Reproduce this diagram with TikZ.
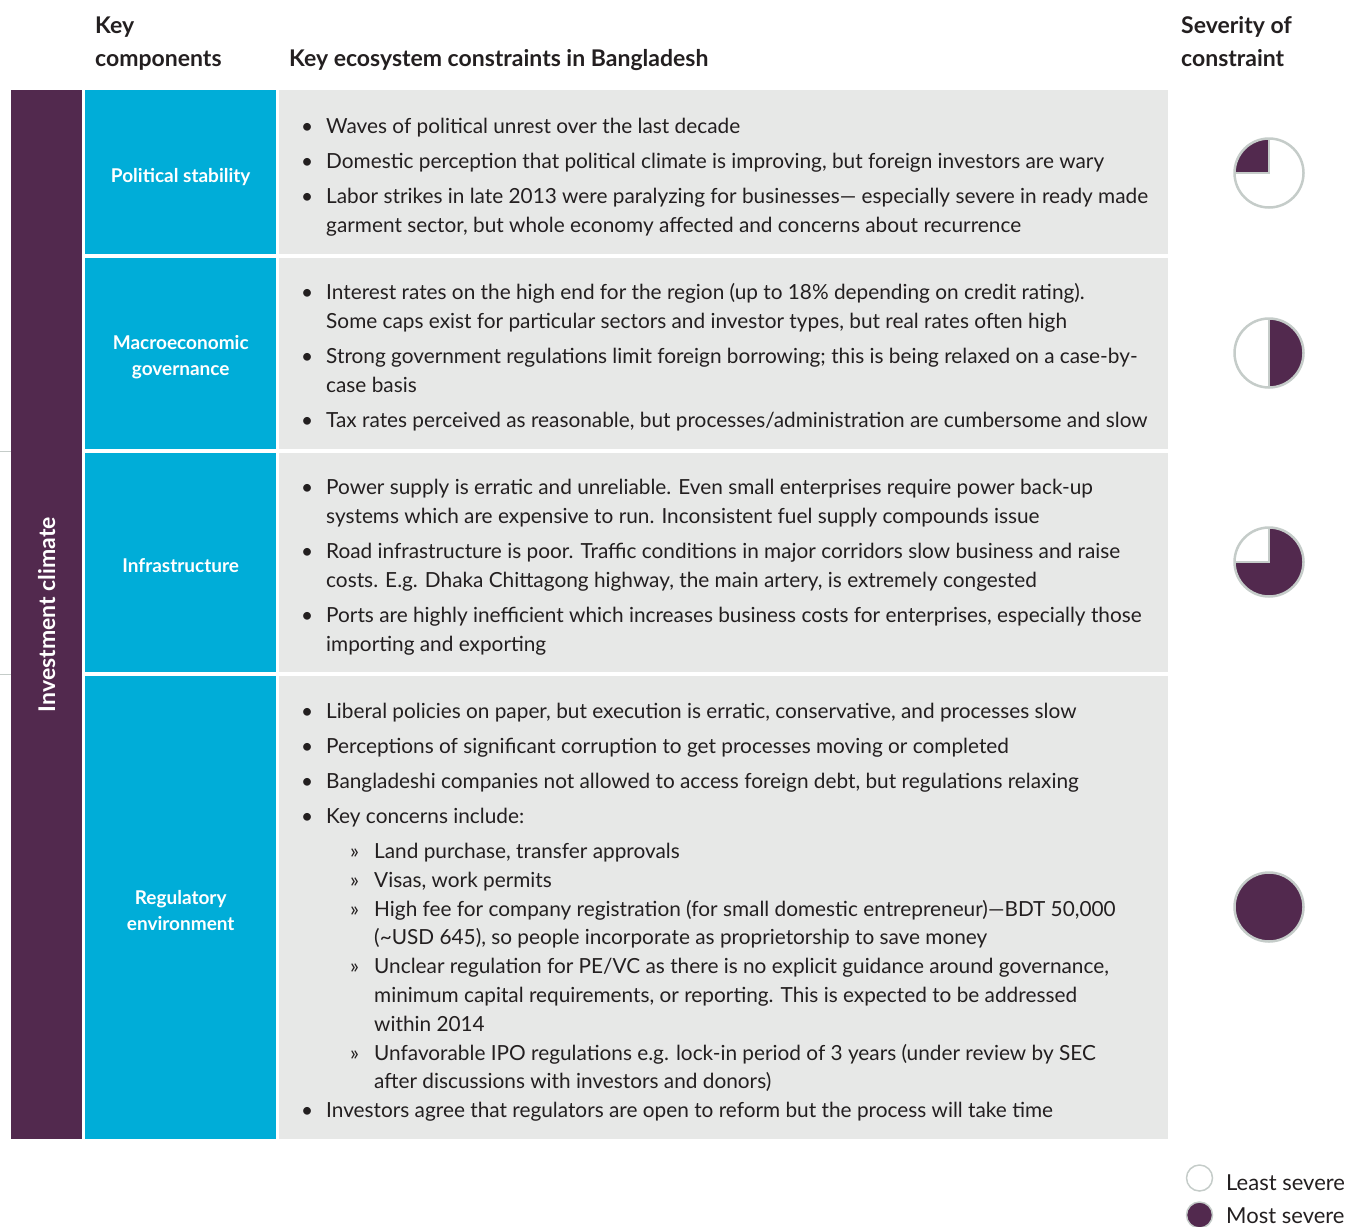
\documentclass[tikz,border=0pt]{standalone}
\usepackage{fontspec}
\setmainfont{Lato}
\definecolor{ipurple}{RGB}{82,41,78}
\definecolor{iblue}{RGB}{0,173,216}
\definecolor{igray}{RGB}{231,232,231}
\definecolor{iring}{RGB}{197,204,201}
\definecolor{itext}{RGB}{35,31,32}
\begin{document}
\begin{tikzpicture}[x=1pt,y=-1pt,
  bluecell/.style={fill=iblue, anchor=north west, minimum width=191pt, inner sep=0pt},
  bluelabel/.style={inner sep=0pt, text=white, font=\fontsize{19}{26}\selectfont\bfseries, align=center, yshift=-3pt},
  graycell/.style={fill=igray, anchor=north west, minimum width=889pt, inner sep=0pt},
  ln/.style={anchor=base west, inner sep=0pt, text=itext, font=\fontsize{20.8}{24}\selectfont},
  hdr/.style={anchor=base west, inner sep=0pt, text=itext, font=\fontsize{23}{26}\selectfont\bfseries},
  ball/.style={circle, draw=iring, line width=2.5pt, minimum size=69pt, inner sep=0pt},
  slice/.style={fill=ipurple},
  radius line/.style={draw=iring, line width=2.5pt},
  leg/.style={circle, draw=iring, line width=1.5pt, minimum size=26pt, inner sep=0pt},
  sep/.style={draw=iring, line width=0.8pt}
]
\useasboundingbox (0,0) rectangle (1346,1226);

% headers
\node[hdr] (hk1) at (95,33) {Key};
\node[hdr] (hk2) at (95,66) {components};
\node[hdr] (hc) at (289,66) {Key ecosystem constraints in Bangladesh};
\node[hdr] (hs1) at (1181,33) {Severity of};
\node[hdr] (hs2) at (1181,66) {constraint};

% left purple bar
\node[fill=ipurple, anchor=north west, minimum width=71pt, minimum height=1049pt, inner sep=0pt] (inv) at (11,90) {};
\node[rotate=90, text=white, font=\fontsize{23}{26}\selectfont\bfseries] (invl) at (inv.center) {Investment climate};
\coordinate (s1a) at (0,451); \coordinate (s1b) at (11,451);
\coordinate (s2a) at (0,674); \coordinate (s2b) at (11,674);
\draw[sep] (s1a) -- (s1b);
\draw[sep] (s2a) -- (s2b);

% blue cells
\node[bluecell, minimum height=164pt] (b1) at (85,90) {};
\node[bluecell, minimum height=191pt] (b2) at (85,258) {};
\node[bluecell, minimum height=219pt] (b3) at (85,453) {};
\node[bluecell, minimum height=463pt] (b4) at (85,676) {};
\node[bluelabel, yshift=-1.5pt] (b1l) at (b1.center) {Political stability};
\node[bluelabel] (b2l) at (b2.center) {Macroeconomic\\governance};
\node[bluelabel] (b3l) at (b3.center) {Infrastructure};
\node[bluelabel] (b4l) at (b4.center) {Regulatory\\environment};

% gray cells
\node[graycell, minimum height=164pt] (g1) at (279,90) {};
\node[graycell, minimum height=191pt] (g2) at (279,258) {};
\node[graycell, minimum height=219pt] (g3) at (279,453) {};
\node[graycell, minimum height=463pt] (g4) at (279,676) {};

% row 1
\node[ln] (p1) at (301,133) {•};
\node[ln] (t1) at (326,133) {Waves of political unrest over the last decade};
\node[ln] (p2) at (301,168) {•};
\node[ln] (t2) at (326,168) {Domestic perception that political climate is improving, but foreign investors are wary};
\node[ln] (p3) at (301,203) {•};
\node[ln] (t3) at (326,203) {Labor strikes in late 2013 were paralyzing for businesses— especially severe in ready made};
\node[ln] (t3b) at (326,232) {garment sector, but whole economy affected and concerns about recurrence};

% row 2
\node[ln] (p4) at (301,299) {•};
\node[ln] (t4) at (326,299) {Interest rates on the high end for the region (up to 18\% depending on credit rating).};
\node[ln] (t4b) at (326,328) {Some caps exist for particular sectors and investor types, but real rates often high};
\node[ln] (p5) at (301,363) {•};
\node[ln] (t5) at (326,363) {Strong government regulations limit foreign borrowing; this is being relaxed on a case-by-};
\node[ln] (t5b) at (326,392) {case basis};
\node[ln] (p6) at (301,427) {•};
\node[ln] (t6) at (326,427) {Tax rates perceived as reasonable, but processes/administration are cumbersome and slow};

% row 3
\node[ln] (p7) at (301,494) {•};
\node[ln] (t7) at (326,494) {Power supply is erratic and unreliable. Even small enterprises require power back-up};
\node[ln] (t7b) at (326,523) {systems which are expensive to run. Inconsistent fuel supply compounds issue};
\node[ln] (p8) at (301,558) {•};
\node[ln] (t8) at (326,558) {Road infrastructure is poor. Traffic conditions in major corridors slow business and raise};
\node[ln] (t8b) at (326,587) {costs. E.g. Dhaka Chittagong highway, the main artery, is extremely congested};
\node[ln] (p9) at (301,622) {•};
\node[ln] (t9) at (326,622) {Ports are highly inefficient which increases business costs for enterprises, especially those};
\node[ln] (t9b) at (326,651) {importing and exporting};

% row 4
\node[ln] (p10) at (301,718) {•};
\node[ln] (t10) at (326,718) {Liberal policies on paper, but execution is erratic, conservative, and processes slow};
\node[ln] (p11) at (301,753) {•};
\node[ln] (t11) at (326,753) {Perceptions of significant corruption to get processes moving or completed};
\node[ln] (p12) at (301,788) {•};
\node[ln] (t12) at (326,788) {Bangladeshi companies not allowed to access foreign debt, but regulations relaxing};
\node[ln] (p13) at (301,823) {•};
\node[ln] (t13) at (326,823) {Key concerns include:};
\node[ln] (q1) at (350,858) {»};
\node[ln] (u1) at (374,858) {Land purchase, transfer approvals};
\node[ln] (q2) at (350,887) {»};
\node[ln] (u2) at (374,887) {Visas, work permits};
\node[ln] (q3) at (350,916) {»};
\node[ln] (u3) at (374,916) {High fee for company registration (for small domestic entrepreneur)—BDT 50,000};
\node[ln] (u3b) at (374,944) {(\textasciitilde USD 645), so people incorporate as proprietorship to save money};
\node[ln] (q4) at (350,973) {»};
\node[ln] (u4) at (374,973) {Unclear regulation for PE/VC as there is no explicit guidance around governance,};
\node[ln] (u4b) at (374,1002) {minimum capital requirements, or reporting. This is expected to be addressed};
\node[ln] (u4c) at (374,1031) {within 2014};
\node[ln] (q5) at (350,1060) {»};
\node[ln] (u5) at (374,1060) {Unfavorable IPO regulations e.g. lock-in period of 3 years (under review by SEC};
\node[ln] (u5b) at (374,1088) {after discussions with investors and donors)};
\node[ln] (p14) at (301,1117) {•};
\node[ln] (t14) at (326,1117) {Investors agree that regulators are open to reform but the process will take time};

% Harvey balls
\coordinate (h1) at (1269,173);
\coordinate (h2) at (1269,353);
\coordinate (h3) at (1269,562);
\coordinate (h4) at (1269,907);
\fill[slice] (h1) -- ++(0pt,34.5pt) arc[start angle=90, end angle=180, radius=34.5pt] -- cycle;
\fill[slice] (h2) -- ++(0pt,34.5pt) arc[start angle=90, end angle=-90, radius=34.5pt] -- cycle;
\fill[slice] (h3) -- ++(-34.5pt,0pt) arc[start angle=180, end angle=450, radius=34.5pt] -- cycle;
\fill[slice] (h4) circle[radius=34.5pt];
\draw[radius line] ([yshift=34.5pt]h1) -- (h1) -- ([xshift=-34.5pt]h1);
\draw[radius line] ([yshift=34.5pt]h2) -- ([yshift=-34.5pt]h2);
\draw[radius line] ([yshift=34.5pt]h3) -- (h3) -- ([xshift=-34.5pt]h3);
\node[ball] (c1) at (h1) {};
\node[ball] (c2) at (h2) {};
\node[ball] (c3) at (h3) {};
\node[ball] (c4) at (h4) {};

% legend
\node[leg] (l1) at (1199.5,1178) {};
\node[leg, fill=ipurple] (l2) at (1199.5,1215) {};
\node[anchor=base west, inner sep=0pt, text=itext, font=\fontsize{22}{26}\selectfont] (lt1) at (1226,1190) {Least severe};
\node[anchor=base west, inner sep=0pt, text=itext, font=\fontsize{22}{26}\selectfont] (lt2) at (1226,1223) {Most severe};
\end{tikzpicture}
\end{document}
